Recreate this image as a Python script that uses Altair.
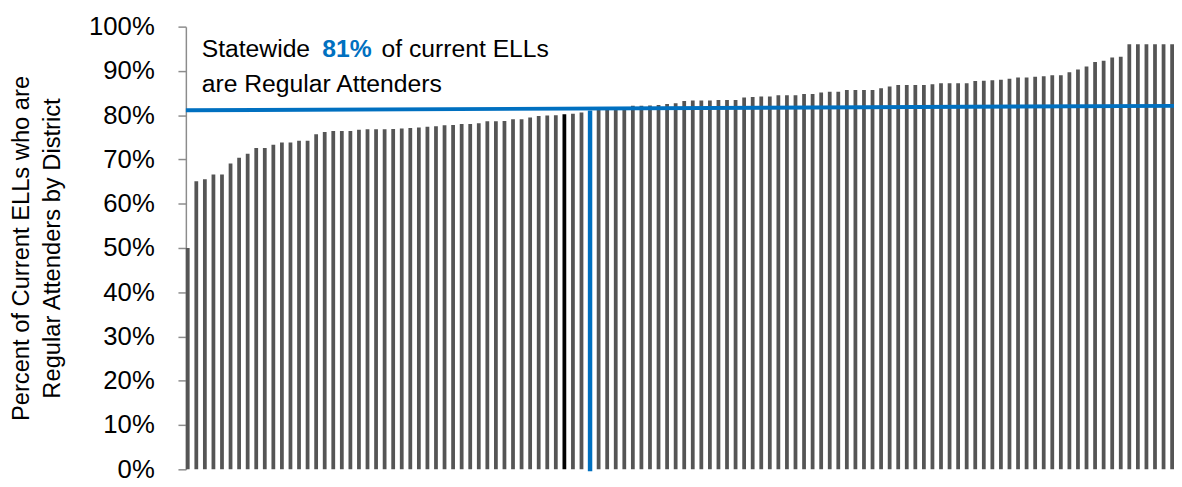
import altair as alt
import pandas as pd

# Percent of current ELLs who are regular attenders, one value per district (sorted)
rates = [
    50.0, 65.1, 65.5, 66.6, 66.6, 69.1, 70.4, 71.3, 72.6, 72.6,
    73.3, 73.8, 73.8, 74.2, 74.2, 75.7, 76.2, 76.4, 76.4, 76.4,
    76.7, 76.8, 76.8, 76.8, 76.9, 77.0, 77.1, 77.2, 77.4, 77.5,
    77.7, 77.8, 78.0, 78.0, 78.2, 78.6, 78.6, 78.7, 79.1, 79.1,
    79.5, 79.8, 79.9, 80.0, 80.2, 80.3, 80.6, 81.0, 81.5, 81.6,
    81.7, 81.8, 82.1, 82.1, 82.2, 82.3, 82.5, 82.7, 83.2, 83.3,
    83.3, 83.3, 83.4, 83.4, 83.4, 84.0, 84.1, 84.2, 84.2, 84.5,
    84.5, 84.5, 84.8, 84.8, 85.1, 85.3, 85.3, 85.7, 85.7, 85.7,
    85.7, 86.1, 86.5, 86.8, 86.8, 86.8, 86.8, 87.0, 87.2, 87.2,
    87.2, 87.2, 87.7, 87.8, 87.9, 88.0, 88.2, 88.5, 88.5, 88.7,
    88.8, 89.0, 89.0, 89.7, 90.3, 91.0, 92.0, 92.3, 93.0, 93.2,
    96.0, 96.0, 96.0, 96.0, 96.0, 96.0,
]
highlight_index = 44   # black bar
statewide_index = 47   # blue bar (statewide)
statewide_line = [0.811, 0.821]  # blue reference line (left end, right end)
y_ticks = [i / 10 for i in range(11)]

kinds = []
for i in range(len(rates)):
    if i == highlight_index:
        kinds.append("highlight")
    elif i == statewide_index:
        kinds.append("statewide")
    else:
        kinds.append("district")

df = pd.DataFrame({
    "district": list(range(len(rates))),
    "rate": [r / 100 for r in rates],
    "kind": kinds,
})

FONT = "Liberation Sans"
BLUE = "#0070C0"
W, H = 1000, 448

xenc = alt.X("district:O", axis=None,
             scale=alt.Scale(paddingInner=0.56, paddingOuter=0.0))

bars = alt.Chart(df).mark_bar().encode(
    x=xenc,
    y=alt.Y("rate:Q",
            scale=alt.Scale(domain=[0, 1], nice=False),
            axis=alt.Axis(
                values=y_ticks, format=".0%", grid=False,
                title=["Percent of Current ELLs who are", "Regular Attenders by District"],
                titleFont=FONT, titleFontSize=24, titleFontWeight="normal",
                titleColor="#000000", titleLineHeight=32, titlePadding=24,
                labelFont=FONT, labelFontSize=26, labelColor="#000000",
                labelPadding=24, tickSize=8, tickColor="#8c8c8c",
                domainColor="#8c8c8c", tickWidth=1.5, domainWidth=1.5,
            )),
    color=alt.Color("kind:N", legend=None,
                    scale=alt.Scale(domain=["district", "highlight", "statewide"],
                                    range=["#555555", "#000000", BLUE])),
)

vline = alt.Chart(df).transform_filter(
    alt.datum.kind == "statewide"
).mark_rule(color=BLUE, strokeWidth=4.5).encode(
    x=xenc, y="rate:Q", y2=alt.value(H + 2),
)

line_df = pd.DataFrame({"y1": [statewide_line[0]], "y2": [statewide_line[1]]})
hline = alt.Chart(line_df).mark_rule(color=BLUE, strokeWidth=4).encode(
    x=alt.value(0), x2=alt.value(W + 2),
    y="y1:Q", y2="y2:Q",
)

ann_df = pd.DataFrame({"a": ["Statewide", "81%", "of current ELLs", "are Regular Attenders"]})

def piece(text, xpx, ypx, color="#000000", weight="normal"):
    return alt.Chart(ann_df).transform_filter(alt.datum.a == text).mark_text(
        align="left", baseline="alphabetic", font=FONT, fontSize=25,
        color=color, fontWeight=weight,
    ).encode(x=alt.value(xpx), y=alt.value(ypx), text="a:N")

texts = (
    piece("Statewide", 16, 31)
    + piece("81%", 138, 31, BLUE, "bold")
    + piece("of current ELLs", 198, 31)
    + piece("are Regular Attenders", 16, 66)
)

chart = alt.layer(bars, vline, hline, texts).properties(
    width=W, height=H,
    autosize=alt.AutoSizeParams(type="none"),
    padding={"left": 180, "top": 16, "right": 0, "bottom": 12},
).configure_view(stroke=None)

chart.save("out.html", embed_options={"renderer": "svg", "actions": False})
